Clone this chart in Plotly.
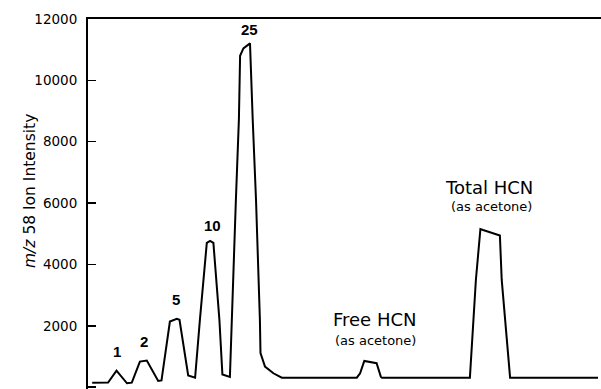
import plotly.graph_objects as go

# Chromatogram trace (time in arbitrary units, m/z 58 ion intensity)
time = [0.14, 0.67, 0.95, 1.30, 1.46, 1.73, 1.96, 2.34, 2.45, 2.73, 2.96, 3.05,
        3.34, 3.57, 3.73, 3.96, 4.07, 4.18, 4.38, 4.48, 4.73, 4.79, 4.93, 5.03,
        5.07, 5.18, 5.40, 5.49, 5.60, 5.73, 5.75, 5.90, 6.18, 6.46, 8.96, 9.07,
        9.21, 9.62, 9.76, 9.80, 12.73, 12.93, 13.08, 13.17, 13.73, 13.79, 14.07, 17.0]
intensity = [147, 154, 540, 127, 147, 833, 866, 203, 219, 2140, 2229, 2196,
             382, 307, 2196, 4703, 4768, 4703, 2196, 415, 333, 2196, 6118, 8732,
             10800, 11042, 11206, 8732, 6118, 2196, 1108, 670, 454, 310, 310, 454,
             856, 781, 343, 310, 310, 3503, 5154, 5121, 4941, 3503, 310, 310]

# Peak labels (standard amounts)
peak_labels = ["1", "2", "5", "10", "25"]
peak_label_time = [0.967, 1.883, 2.933, 4.143, 5.367]
peak_label_int = [1167, 1477, 2850, 5278, 11663]

# Named peaks
named_labels = ["Free HCN", "Total HCN"]
named_time = [9.583, 13.367]
named_int = [2196, 6500]
sub_labels = ["(as acetone)", "(as acetone)"]
sub_time = [9.593, 13.45]
sub_int = [1510, 5889]

y_ticks = [0, 2000, 4000, 6000, 8000, 10000, 12000]

W, H = 601, 389
ml, mr, mt, mb = 88, 0, 19, 0
pw, ph = W - ml - mr, H - mt - mb

fig = go.Figure()
fig.add_trace(go.Scatter(x=time, y=intensity, mode="lines",
                         line=dict(color="black", width=2), hoverinfo="skip"))

annotations = []
for lab, t, v in zip(peak_labels, peak_label_time, peak_label_int):
    annotations.append(dict(x=t, y=v, xref="x", yref="y", text="<b>%s</b>" % lab,
                            showarrow=False, font=dict(family="Liberation Sans", size=15, color="black")))
for lab, t, v in zip(named_labels, named_time, named_int):
    annotations.append(dict(x=t, y=v, xref="x", yref="y", text=lab,
                            showarrow=False, font=dict(family="DejaVu Sans", size=18, color="black")))
for lab, t, v in zip(sub_labels, sub_time, sub_int):
    annotations.append(dict(x=t, y=v, xref="x", yref="y", text=lab,
                            showarrow=False, font=dict(family="DejaVu Sans", size=13, color="black")))
annotations.append(dict(x=(19 - ml) / pw, y=1 - (191 - mt) / ph, xref="paper", yref="paper",
                        text="<i>m/z</i> 58 Ion Intensity",
                        textangle=-90, showarrow=False,
                        font=dict(family="DejaVu Sans", size=15.5, color="black")))

fig.update_layout(
    width=W, height=H,
    margin=dict(l=ml, r=mr, t=mt, b=mb, autoexpand=False),
    plot_bgcolor="white", paper_bgcolor="white",
    showlegend=False,
    annotations=annotations,
    xaxis=dict(range=[0, 17.1], side="top", showline=True, linecolor="black", linewidth=2,
               showticklabels=False, ticks="", showgrid=False, zeroline=False, automargin=False),
    yaxis=dict(range=[-59, 12000], showline=True, linecolor="black", linewidth=2,
               ticks="inside", ticklen=8, tickwidth=1.5, tickcolor="black",
               tickvals=y_ticks, ticktext=[str(v) for v in y_ticks],
               tickfont=dict(family="DejaVu Sans", size=13.5, color="black"),
               ticklabelstandoff=6, automargin=False,
               showgrid=False, zeroline=False),
)

fig.write_html("out.html",
               config={"displayModeBar": False, "staticPlot": True},
               post_script="document.body.style.margin='0';document.body.style.overflow='hidden';")
